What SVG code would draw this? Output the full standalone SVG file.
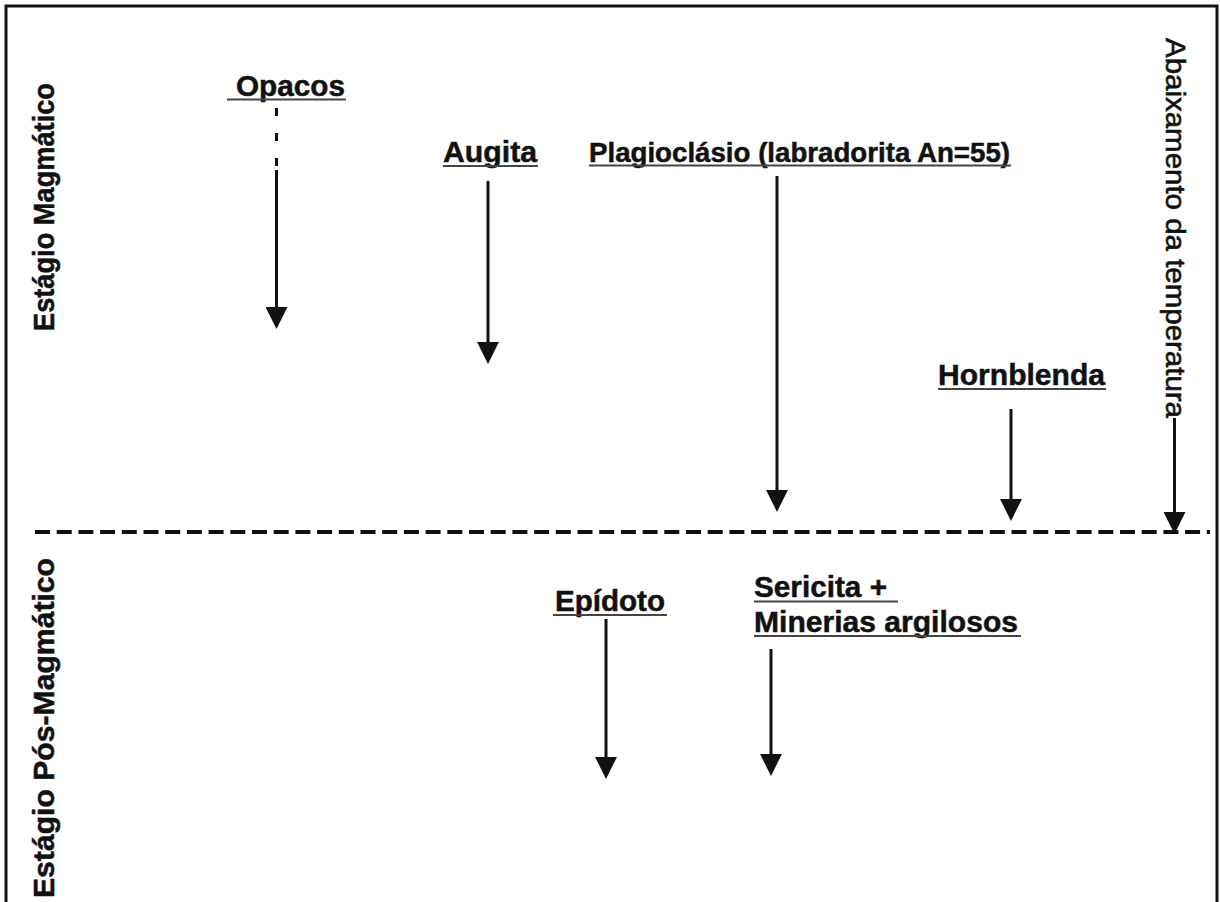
<svg xmlns="http://www.w3.org/2000/svg" width="1220" height="902" viewBox="0 0 1220 902">
<style>
.lbl{font-family:"Liberation Sans",Arial,sans-serif;font-weight:bold;fill:#111;stroke:#111;stroke-width:0.5;}
.reg{font-family:"Liberation Sans",Arial,sans-serif;font-weight:normal;fill:#111;stroke:#111;stroke-width:0.6;}
.ul{stroke:#444;stroke-width:2;}
.arr{stroke:#111;stroke-width:3;fill:none;marker-end:url(#head);}
</style>
<defs>
<marker id="head" markerUnits="userSpaceOnUse" markerWidth="22" markerHeight="22" refX="2" refY="10.5" orient="auto" viewBox="0 0 21 21">
<path d="M0,0 L21,10.5 L0,21 Z" fill="#111"/>
</marker>
</defs>
<rect x="0" y="0" width="1220" height="902" fill="#fff"/>
<rect x="6" y="6" width="1211" height="920" fill="none" stroke="#111" stroke-width="3"/>

<g id="stage-magmatico">
<text class="lbl" font-size="30" transform="translate(54,331) rotate(-90)" textLength="248" lengthAdjust="spacingAndGlyphs">Estágio Magmático</text>
</g>
<g id="stage-pos-magmatico">
<text class="lbl" font-size="30" transform="translate(54,898) rotate(-90)" textLength="340" lengthAdjust="spacingAndGlyphs">Estágio Pós-Magmático</text>
</g>
<g id="temperatura">
<text class="reg" font-size="27" transform="translate(1166,38) rotate(90)" textLength="380" lengthAdjust="spacingAndGlyphs">Abaixamento da temperatura</text>
</g>

<g id="opacos">
<text class="lbl" font-size="29" x="236" y="96" textLength="109" lengthAdjust="spacingAndGlyphs">Opacos</text>
<line class="ul" x1="227" y1="99.5" x2="346" y2="99.5"/>
</g>
<g id="augita">
<text class="lbl" font-size="30" x="443" y="162" textLength="94" lengthAdjust="spacingAndGlyphs">Augita</text>
<line class="ul" x1="443" y1="166" x2="538" y2="166"/>
</g>
<g id="plagioclasio">
<text class="lbl" font-size="28" x="589" y="162" textLength="421" lengthAdjust="spacingAndGlyphs">Plagioclásio (labradorita An=55)</text>
<line class="ul" x1="589" y1="165.5" x2="1011" y2="165.5"/>
</g>
<g id="hornblenda">
<text class="lbl" font-size="30" x="938" y="385" textLength="167" lengthAdjust="spacingAndGlyphs">Hornblenda</text>
<line class="ul" x1="938" y1="389" x2="1106" y2="389"/>
</g>
<g id="epidoto">
<text class="lbl" font-size="30" x="555" y="611" textLength="110" lengthAdjust="spacingAndGlyphs">Epídoto</text>
<line class="ul" x1="553" y1="615" x2="667" y2="615"/>
</g>
<g id="sericita">
<text class="lbl" font-size="30" x="754" y="597" textLength="133" lengthAdjust="spacingAndGlyphs">Sericita +</text>
<line class="ul" x1="754" y1="601.5" x2="898" y2="601.5"/>
<text class="lbl" font-size="30" x="754" y="632" textLength="264" lengthAdjust="spacingAndGlyphs">Minerias argilosos</text>
<line class="ul" x1="754" y1="636" x2="1021" y2="636"/>
</g>

<g id="connectors">
<line x1="35" y1="532" x2="1210" y2="532" stroke="#111" stroke-width="4" stroke-dasharray="15 6.7"/>
<g stroke="#111" stroke-width="3">
<line x1="276.5" y1="108" x2="276.5" y2="116"/>
<line x1="276.5" y1="133" x2="276.5" y2="141"/>
<line x1="276.5" y1="158" x2="276.5" y2="166"/>
</g>
<line class="arr" x1="276.5" y1="170" x2="276.5" y2="309"/>
<line class="arr" x1="488" y1="181" x2="488" y2="344"/>
<line class="arr" x1="777" y1="176" x2="777" y2="492"/>
<line class="arr" x1="1011" y1="409" x2="1011" y2="501"/>
<line class="arr" x1="1174.5" y1="418" x2="1174.5" y2="514"/>
<line class="arr" x1="606" y1="619" x2="606" y2="759"/>
<line class="arr" x1="771" y1="649" x2="771" y2="756"/>
</g>
</svg>
